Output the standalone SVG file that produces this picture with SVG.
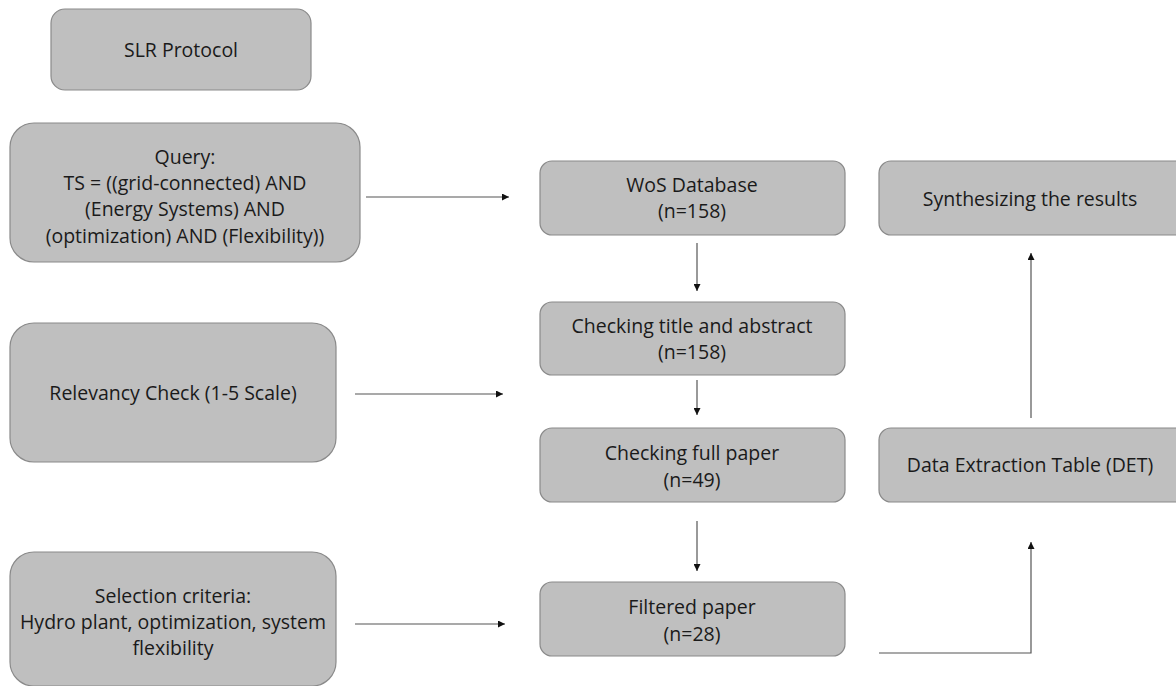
<svg xmlns="http://www.w3.org/2000/svg" width="1176" height="686" viewBox="0 0 1176 686">
<defs>
<style>
.box{fill:#bfbfbf;stroke:#8a8a8a;stroke-width:1.2}
.t{font-family:"Open Sans","Noto Sans",sans-serif;font-size:19.5px;fill:#1a1a1a;text-anchor:middle}
.c{stroke:#555;stroke-width:1.2;fill:none}
</style>
<marker id="ah" viewBox="0 0 10 10" refX="10" refY="5" markerWidth="7" markerHeight="7" markerUnits="userSpaceOnUse" orient="auto">
<path d="M0,0 L10,5 L0,10 z" fill="#111"/>
</marker>
</defs>
<rect width="1176" height="686" fill="#fff"/>
<g id="slr"><rect class="box" x="51" y="9" width="260" height="81" rx="14"/><text class="t" x="181" y="57">SLR Protocol</text></g>
<g id="query"><rect class="box" x="10" y="123" width="350" height="139" rx="24"/>
<text class="t" x="185" y="164">Query:</text>
<text class="t" x="185" y="190">TS = ((grid-connected) AND</text>
<text class="t" x="185" y="216">(Energy Systems) AND</text>
<text class="t" x="185" y="243">(optimization) AND (Flexibility))</text></g>
<g id="relevancy"><rect class="box" x="10" y="323" width="326" height="139" rx="24"/><text class="t" x="173" y="400">Relevancy Check (1-5 Scale)</text></g>
<g id="selection"><rect class="box" x="10" y="552" width="326" height="134" rx="24"/>
<text class="t" x="173" y="603">Selection criteria:</text>
<text class="t" x="173" y="629">Hydro plant, optimization, system</text>
<text class="t" x="173" y="655">flexibility</text></g>
<g id="wos"><rect class="box" x="540" y="161" width="305" height="74" rx="12"/><text class="t" x="692" y="192">WoS Database</text><text class="t" x="692" y="218">(n=158)</text></g>
<g id="title"><rect class="box" x="540" y="302" width="305" height="73" rx="12"/><text class="t" x="692" y="333">Checking title and abstract</text><text class="t" x="692" y="359">(n=158)</text></g>
<g id="full"><rect class="box" x="540" y="428" width="305" height="74" rx="12"/><text class="t" x="692" y="460">Checking full paper</text><text class="t" x="692" y="487">(n=49)</text></g>
<g id="filtered"><rect class="box" x="540" y="582" width="305" height="74" rx="12"/><text class="t" x="692" y="614">Filtered paper</text><text class="t" x="692" y="641">(n=28)</text></g>
<g id="synth"><rect class="box" x="879" y="161" width="310" height="74" rx="12"/><text class="t" x="1030" y="206">Synthesizing the results</text></g>
<g id="det"><rect class="box" x="879" y="428" width="310" height="74" rx="12"/><text class="t" x="1030" y="472">Data Extraction Table (DET)</text></g>
<g id="connectors">
<line class="c" x1="366" y1="197" x2="509" y2="197" marker-end="url(#ah)"/>
<line class="c" x1="355" y1="394" x2="503" y2="394" marker-end="url(#ah)"/>
<line class="c" x1="355" y1="624" x2="505" y2="624" marker-end="url(#ah)"/>
<line class="c" x1="697" y1="243" x2="697" y2="291" marker-end="url(#ah)"/>
<line class="c" x1="697" y1="380" x2="697" y2="415" marker-end="url(#ah)"/>
<line class="c" x1="697" y1="521" x2="697" y2="571" marker-end="url(#ah)"/>
<polyline class="c" points="879,653 1031,653 1031,542" marker-end="url(#ah)"/>
<line class="c" x1="1031" y1="418" x2="1031" y2="253" marker-end="url(#ah)"/>
</g>
</svg>
